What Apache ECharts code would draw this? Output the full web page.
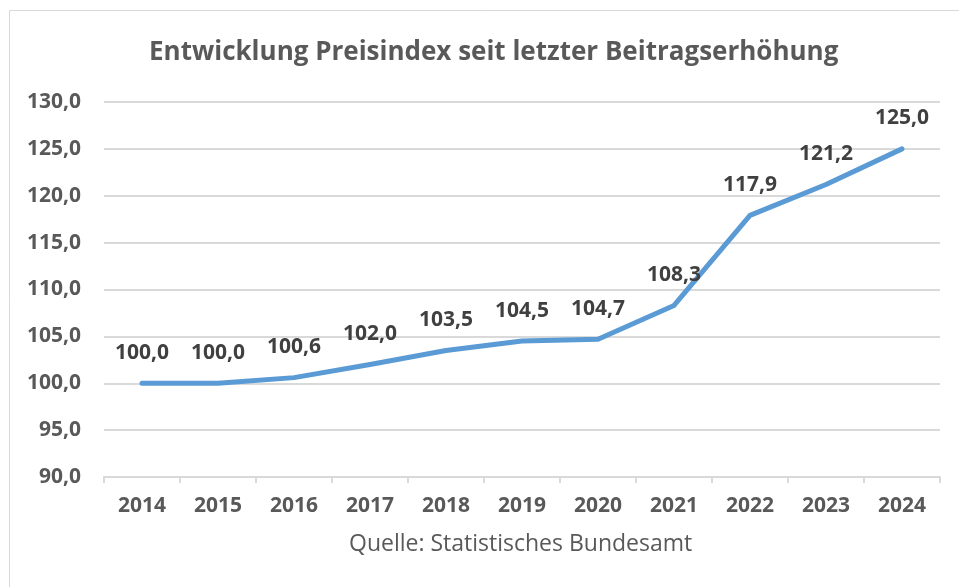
<!DOCTYPE html>
<html>
<head>
<meta charset="utf-8">
<script src="https://cdn.jsdelivr.net/npm/echarts@6/dist/echarts.min.js"></script>
<style>
  html, body { margin: 0; padding: 0; background: #fff; }
  #chart { width: 959px; height: 587px; }
</style>
</head>
<body>
<div id="chart"></div>
<script>
// Chart data
const years = ['2014', '2015', '2016', '2017', '2018', '2019', '2020', '2021', '2022', '2023', '2024'];
const priceIndex = [100.0, 100.0, 100.6, 102.0, 103.5, 104.5, 104.7, 108.3, 117.9, 121.2, 125.0];
const titleText = 'Entwicklung Preisindex seit letzter Beitragserhöhung';
const sourceText = 'Quelle: Statistisches Bundesamt';

const FONT = '"Open Sans", "Noto Sans", sans-serif';
const GRAY = '#595959';
const fmt = v => v.toFixed(1).replace('.', ',');

const chart = echarts.init(document.getElementById('chart'), null, { renderer: 'canvas' });

chart.setOption({
  backgroundColor: '#fff',
  animation: false,
  title: {
    text: titleText,
    left: 144,
    top: 35,
    textStyle: { fontFamily: FONT, fontSize: 26, fontWeight: 'bold', color: GRAY },
  },
  graphic: [
    {
      type: 'rect',
      shape: { x: 9.5, y: 10.5, width: 980, height: 600 },
      style: { fill: 'none', stroke: '#d9d9d9', lineWidth: 1 },
      silent: true,
    },
    {
      type: 'text',
      left: 349,
      top: 533,
      style: { text: sourceText, font: '23px ' + FONT, fill: GRAY },
    },
  ],
  grid: { left: 104, right: 19, top: 102, bottom: 110, containLabel: false },
  xAxis: {
    type: 'category',
    data: years,
    boundaryGap: true,
    axisLine: { lineStyle: { color: '#d9d9d9', width: 2 } },
    axisTick: { show: true, length: 6, lineStyle: { color: '#d9d9d9', width: 2 } },
    axisLabel: { fontFamily: FONT, fontSize: 21, fontWeight: 'bold', color: GRAY, margin: 19 },
  },
  yAxis: {
    type: 'value',
    min: 90,
    max: 130,
    interval: 5,
    axisLine: { show: false },
    axisTick: { show: false },
    axisLabel: { fontFamily: FONT, fontSize: 21, fontWeight: 'bold', color: GRAY, margin: 23, formatter: fmt },
    splitLine: { lineStyle: { color: '#d9d9d9', width: 2 } },
  },
  series: [{
    type: 'line',
    data: priceIndex,
    symbol: 'circle',
    symbolSize: 2,
    itemStyle: { color: '#5b9bd5' },
    lineStyle: { color: '#5b9bd5', width: 5, cap: 'round', join: 'round' },
    label: {
      show: true,
      position: 'top',
      distance: 19,
      fontFamily: FONT,
      fontSize: 21,
      fontWeight: 'bold',
      color: '#404040',
      formatter: p => fmt(p.value),
    },
  }],
});
</script>
</body>
</html>
